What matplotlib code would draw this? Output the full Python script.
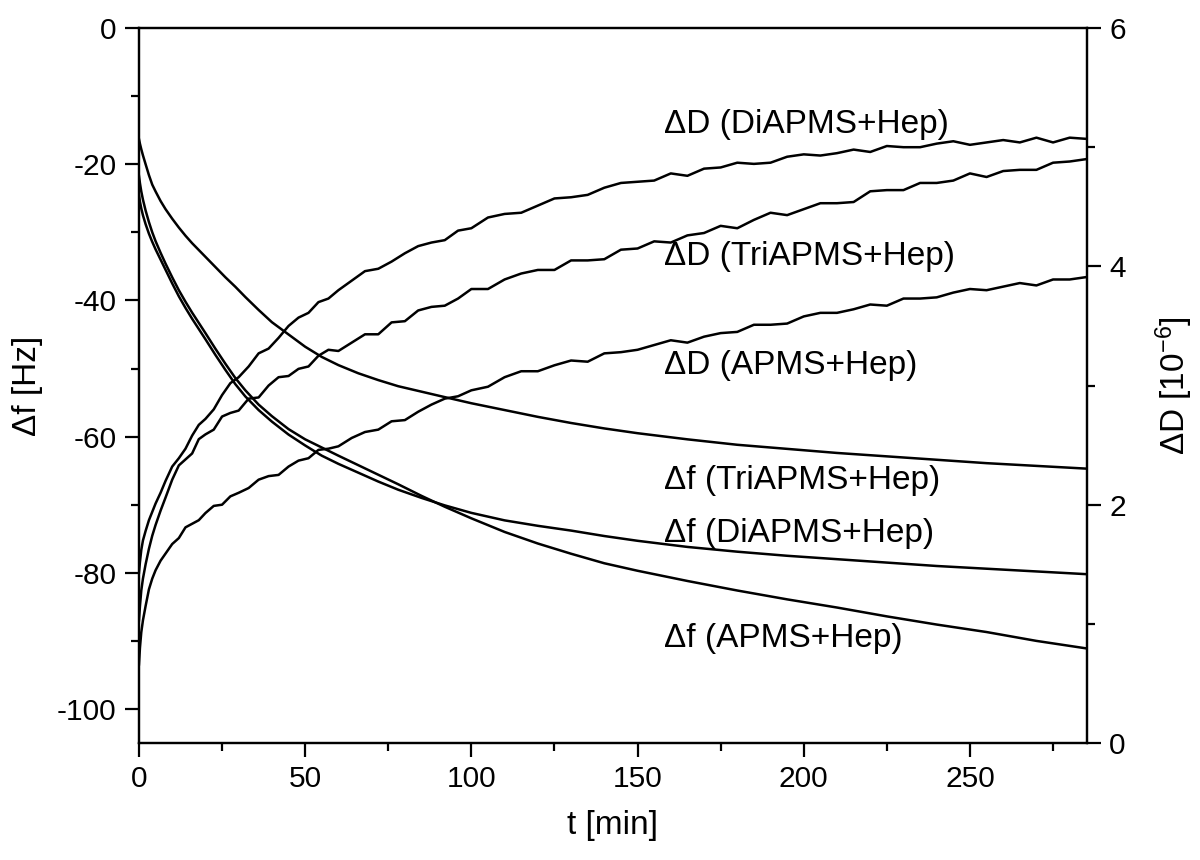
import matplotlib
matplotlib.use("Agg")
import matplotlib.pyplot as plt
from matplotlib.ticker import MultipleLocator

plt.rcParams['font.family'] = ['Liberation Sans', 'DejaVu Sans']
plt.rcParams['axes.unicode_minus'] = False
plt.rcParams['mathtext.fontset'] = 'custom'
plt.rcParams['mathtext.rm'] = 'Liberation Sans'
plt.rcParams['mathtext.default'] = 'regular'

# ---- data: frequency shifts (left axis) ----
t_f = [0, 0.3, 0.7, 1.2, 2, 3, 4, 5, 6.5, 8, 10, 12, 14, 16, 18, 20, 23, 26, 29, 32, 36, 40, 45, 50,
       55, 60, 66, 72, 78, 85, 92, 100, 110, 120, 130, 140, 150, 165, 180, 195, 210, 225, 240, 255, 270, 285]
f_tri = [-16.3, -17.0, -17.8, -18.7, -20.0, -21.6, -23.0, -24.0, -25.4, -26.6, -28.0, -29.3, -30.5, -31.6,
         -32.6, -33.6, -35.1, -36.6, -38.0, -39.5, -41.4, -43.2, -45.0, -46.8, -48.3, -49.5, -50.7, -51.7,
         -52.6, -53.4, -54.2, -55.1, -56.1, -57.1, -58.0, -58.8, -59.5, -60.4, -61.2, -61.8, -62.4, -62.9,
         -63.4, -63.9, -64.3, -64.7]
f_di = [-24.5, -25.5, -26.5, -27.5, -28.8, -30.2, -31.4, -32.5, -34.0, -35.5, -37.5, -39.4, -41.1, -42.7,
        -44.2, -45.7, -48.0, -50.2, -52.3, -54.1, -56.1, -57.8, -59.7, -61.3, -62.8, -64.0, -65.3, -66.6,
        -67.8, -69.0, -70.1, -71.2, -72.3, -73.1, -73.8, -74.6, -75.3, -76.2, -76.9, -77.5, -78.0, -78.5,
        -79.0, -79.4, -79.8, -80.2]
f_apms = [-21.7, -22.8, -24.0, -25.2, -26.8, -28.5, -30.0, -31.3, -33.0, -34.6, -36.6, -38.5, -40.2, -41.8,
          -43.3, -44.8, -47.1, -49.3, -51.4, -53.2, -55.3, -57.0, -58.9, -60.4, -61.6, -62.8, -64.2, -65.6,
          -67.0, -68.7, -70.3, -72.0, -74.0, -75.7, -77.2, -78.6, -79.7, -81.2, -82.6, -83.9, -85.1, -86.4,
          -87.6, -88.7, -90.0, -91.1]

# ---- data: dissipation shifts (right axis) ----
t_D = [0, 0.3, 0.7, 1.2, 2, 3, 4, 5, 6.5, 8, 10, 12, 14, 16, 18, 20, 22.5, 25, 27.5, 30, 33, 36, 39, 42,
       45, 48, 51, 54, 57, 60, 64, 68, 72, 76, 80, 84, 88, 92, 96, 100, 105, 110, 115, 120, 125, 130, 135,
       140, 145, 150, 155, 160, 165, 170, 175, 180, 185, 190, 195, 200, 205, 210, 215, 220, 225, 230, 235,
       240, 245, 250, 255, 260, 265, 270, 275, 280, 285]
D_di = [1.43, 1.52, 1.62, 1.70, 1.78, 1.87, 1.94, 2.01, 2.10,
        2.20, 2.32, 2.39, 2.47, 2.58, 2.67, 2.72, 2.80, 2.92, 3.02,
        3.07, 3.16, 3.27, 3.31, 3.40, 3.50, 3.57, 3.61, 3.70, 3.73,
        3.80, 3.88, 3.96, 3.98, 4.04, 4.11, 4.17, 4.20, 4.22, 4.30,
        4.32, 4.41, 4.44, 4.45, 4.51, 4.57, 4.58, 4.60, 4.66, 4.70,
        4.71, 4.72, 4.78, 4.76, 4.82, 4.83, 4.87, 4.86, 4.87, 4.92,
        4.94, 4.93, 4.95, 4.98, 4.96, 5.01, 5.00, 5.00, 5.03, 5.05,
        5.02, 5.04, 5.06, 5.04, 5.08, 5.04, 5.08, 5.07]
D_tri = [1.03, 1.15, 1.28, 1.38, 1.50, 1.63, 1.74, 1.83, 1.95,
         2.06, 2.21, 2.33, 2.38, 2.43, 2.55, 2.59, 2.63, 2.74, 2.77,
         2.79, 2.89, 2.90, 3.00, 3.07, 3.08, 3.14, 3.16, 3.25, 3.30,
         3.29, 3.36, 3.43, 3.43, 3.53, 3.54, 3.63, 3.66, 3.67, 3.73,
         3.81, 3.81, 3.89, 3.94, 3.97, 3.97, 4.05, 4.05, 4.06, 4.14,
         4.15, 4.21, 4.20, 4.26, 4.28, 4.34, 4.32, 4.39, 4.45, 4.43,
         4.48, 4.53, 4.53, 4.54, 4.63, 4.64, 4.64, 4.70, 4.70, 4.72,
         4.78, 4.75, 4.80, 4.81, 4.81, 4.87, 4.88, 4.90]
D_apms = [0.66, 0.80, 0.93, 1.03, 1.15, 1.29, 1.38, 1.45, 1.53,
          1.59, 1.67, 1.72, 1.81, 1.84, 1.87, 1.93, 1.99, 2.00, 2.07,
          2.10, 2.14, 2.21, 2.24, 2.25, 2.32, 2.37, 2.39, 2.46, 2.47,
          2.49, 2.56, 2.61, 2.63, 2.70, 2.71, 2.78, 2.84, 2.89, 2.91,
          2.96, 2.99, 3.07, 3.12, 3.12, 3.17, 3.21, 3.20, 3.27, 3.28,
          3.30, 3.34, 3.38, 3.36, 3.41, 3.44, 3.45, 3.51, 3.51, 3.52,
          3.58, 3.61, 3.61, 3.64, 3.68, 3.67, 3.73, 3.73, 3.74, 3.78,
          3.81, 3.80, 3.83, 3.86, 3.84, 3.89, 3.89, 3.91]

labels = ["\u0394D (DiAPMS+Hep)", "\u0394D (TriAPMS+Hep)", "\u0394D (APMS+Hep)",
          "\u0394f (TriAPMS+Hep)", "\u0394f (DiAPMS+Hep)", "\u0394f (APMS+Hep)"]
label_t = [158, 158, 158, 158, 158, 158]
label_f = [-14.1, -33.6, -49.5, -66.4, -74.2, -89.6]

# ---- figure ----
fig = plt.figure(figsize=(12, 8.6), dpi=100)
ax = fig.add_axes([0.1158, 0.1360, 0.7900, 0.8314])
ax2 = ax.twinx()

lw = 1.8
ax.plot(t_f, f_tri, color='black', lw=lw)
ax.plot(t_f, f_di, color='black', lw=lw)
ax.plot(t_f, f_apms, color='black', lw=lw)
ax2.plot(t_D, D_di, color='black', lw=lw)
ax2.plot(t_D, D_tri, color='black', lw=lw)
ax2.plot(t_D, D_apms, color='black', lw=lw)

ax.set_xlim(0, 285.2)
ax.set_ylim(-105, 0)
ax2.set_ylim(0, 6)

ax.xaxis.set_major_locator(MultipleLocator(50))
ax.xaxis.set_minor_locator(MultipleLocator(25))
ax.yaxis.set_major_locator(MultipleLocator(20))
ax.yaxis.set_minor_locator(MultipleLocator(10))
ax2.yaxis.set_major_locator(MultipleLocator(2))
ax2.yaxis.set_minor_locator(MultipleLocator(1))

for a in (ax, ax2):
    for s in a.spines.values():
        s.set_linewidth(1.6)
    a.tick_params(which='major', direction='out', length=10, width=1.6, labelsize=21.5, pad=6)
    a.tick_params(which='minor', direction='out', length=5.5, width=1.6)
ax.tick_params(axis='x', which='both', top=False)
ax.tick_params(axis='y', which='both', right=False)

ax.set_xlabel("t [min]", fontsize=24, labelpad=12)
ax.set_ylabel("\u0394f [Hz]", fontsize=24, labelpad=10)
ax2.set_ylabel("\u0394D [10$^{-6}$]", fontsize=24, labelpad=20)

for txt, tx, ty in zip(labels, label_t, label_f):
    ax.text(tx, ty, txt, fontsize=24, ha='left', va='center')

fig.savefig("out.png", dpi=100)
